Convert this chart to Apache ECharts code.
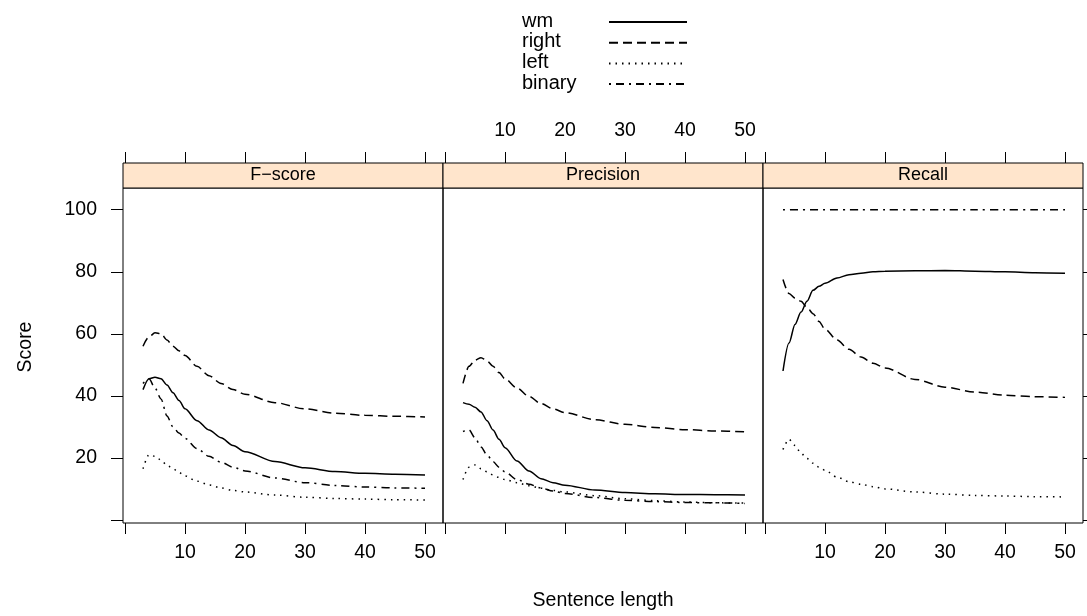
<!DOCTYPE html>
<html>
<head>
<meta charset="utf-8">
<script src="https://cdn.jsdelivr.net/npm/echarts@6/dist/echarts.min.js"></script>
<style>html,body{margin:0;padding:0;background:#fff}#c{width:1087px;height:616px}</style>
</head>
<body>
<div id="c"></div>
<script>
// ---- data ----
const panels = ['F\u2212score', 'Precision', 'Recall'];
const seriesNames = ['wm', 'right', 'left', 'binary'];
const xs = [3, 4, 5, 6, 7, 8, 9, 10, 12, 14, 16, 18, 20, 25, 30, 35, 40, 45, 50];

const wmF     = [42, 45.5, 46, 45.5, 43.5, 41, 38.5, 35.8, 32, 29, 26.5, 24, 22, 18.8, 16.8, 15.6, 15, 14.7, 14.5];
const rightF  = [56, 59, 60.3, 60, 58, 56, 54.5, 53, 49.5, 46.5, 44, 42, 40.5, 37.8, 35.8, 34.4, 33.7, 33.4, 33.2];
const leftF   = [16.5, 21, 20.5, 19.3, 17.6, 16.5, 15.3, 14.2, 12.5, 11.3, 10.3, 9.5, 9, 8, 7.3, 6.9, 6.7, 6.5, 6.4];
const binaryF = [44, 45.5, 42.5, 39, 33.5, 30, 28, 26.3, 23, 20.5, 18.6, 17, 15.8, 13.5, 12, 11.1, 10.6, 10.3, 10.2];

const wmP     = [37.8, 37.3, 36.3, 34.8, 32, 29, 26, 23.3, 19, 15.8, 13.3, 12, 11.2, 9.6, 8.8, 8.4, 8.2, 8.1, 8.0];
const rightP  = [44, 49.5, 51.5, 52.3, 51.3, 49.5, 47.5, 45.5, 42.5, 39.8, 37.5, 35.8, 34.6, 32.3, 30.8, 29.8, 29.1, 28.7, 28.4];
const leftP   = [13, 17, 17.7, 16.5, 15.5, 14.5, 13.7, 13, 12, 11, 10.2, 9.5, 9, 7.8, 6.8, 6.2, 5.8, 5.5, 5.4];
const binaryP = [28.5, 29, 26.5, 23.5, 21, 18.8, 17, 15.5, 13, 11.5, 10.3, 9.3, 8.5, 7.2, 6.3, 5.9, 5.6, 5.5, 5.3];

const wmR     = [48, 57, 63, 67, 70.5, 74, 75.3, 76.3, 78, 79, 79.5, 80, 80.2, 80.3, 80.4, 80.2, 80, 79.7, 79.5];
const rightR  = [77.5, 73, 71.5, 70.5, 68.5, 66.5, 64, 61.5, 58, 55, 52.5, 50.5, 49, 45.3, 42.8, 41.2, 40.2, 39.7, 39.5];
const leftR   = [22.7, 26, 24, 21.5, 19.8, 18.3, 17, 16, 13.8, 12.3, 11.5, 10.7, 10, 9, 8.3, 7.9, 7.7, 7.5, 7.4];
const binaryR = [100, 100, 100, 100, 100, 100, 100, 100, 100, 100, 100, 100, 100, 100, 100, 100, 100, 100, 100];

const xTicks = [0, 10, 20, 30, 40, 50];
const xLabels = [10, 20, 30, 40, 50];
const yTicks = [0, 20, 40, 60, 80, 100];
const yLabels = [20, 40, 60, 80, 100];

const panelValues = [
  [wmF, rightF, leftF, binaryF],
  [wmP, rightP, leftP, binaryP],
  [wmR, rightR, leftR, binaryR]
];

// ---- layout / style ----
const FONT = '"Liberation Sans", Arial, Helvetica, sans-serif';
const TICKFS = 19.5;
const GL = [123, 443, 763], GT = 188, GW = 320, GH = 335, STRIP = 25;
const XMIN = -1 / 3, XMAX = 53, YMIN = -1, YMAX = 107;
const dashes = ['solid', [9, 5], [1.5, 5], [2, 5, 8, 5]];

const grids = [], xAxes = [], yAxes = [], series = [], graphics = [];
GL.forEach((l, i) => {
  grids.push({ left: l, top: GT, width: GW, height: GH, show: true, borderColor: '#000', borderWidth: 1, backgroundColor: 'transparent', containLabel: false });
  const tick = { show: true, inside: false, length: 11, lineStyle: { color: '#000', width: 1 }, customValues: xTicks };
  xAxes.push({ gridIndex: i, type: 'value', position: 'bottom', min: XMIN, max: XMAX,
    axisLine: { show: false, onZero: false }, splitLine: { show: false }, axisTick: tick,
    axisLabel: { show: i !== 1, customValues: xLabels, margin: 20, color: '#000', fontSize: TICKFS, fontFamily: FONT } });
  xAxes.push({ gridIndex: i, type: 'value', position: 'top', offset: STRIP, min: XMIN, max: XMAX,
    axisLine: { show: false, onZero: false }, splitLine: { show: false }, axisTick: tick,
    axisLabel: { show: i === 1, customValues: xLabels, margin: 22, color: '#000', fontSize: TICKFS, fontFamily: FONT } });
  const ytick = { show: true, inside: false, length: 12, lineStyle: { color: '#000', width: 1 }, customValues: yTicks };
  yAxes.push({ gridIndex: i, type: 'value', position: 'left', min: YMIN, max: YMAX,
    axisLine: { show: false, onZero: false }, splitLine: { show: false }, axisTick: Object.assign({}, ytick, { show: i === 0 }),
    axisLabel: { show: i === 0, customValues: yLabels, margin: 26, color: '#000', fontSize: TICKFS, fontFamily: FONT } });
  yAxes.push({ gridIndex: i, type: 'value', position: 'right', min: YMIN, max: YMAX,
    axisLine: { show: false, onZero: false }, splitLine: { show: false }, axisTick: Object.assign({}, ytick, { show: i === 2 }),
    axisLabel: { show: false } });
  seriesNames.forEach((nm, k) => {
    series.push({ name: nm, type: 'line', xAxisIndex: 2 * i, yAxisIndex: 2 * i,
      data: xs.map((x, j) => [x, panelValues[i][k][j]]),
      symbol: 'none', smooth: 0.3, smoothMonotone: 'x', silent: true,
      lineStyle: { color: '#000', width: 1.5, type: dashes[k] }, itemStyle: { color: '#000' } });
  });
  graphics.push({ type: 'rect', shape: { x: l, y: GT - STRIP, width: GW, height: STRIP },
    style: { fill: '#FFE5CC', stroke: '#000', lineWidth: 1 } });
  graphics.push({ type: 'text', x: l + GW / 2, y: GT - STRIP / 2,
    style: { text: panels[i], align: 'center', verticalAlign: 'middle', font: '18px ' + FONT, fill: '#000' } });
});
// legend labels (text column left of the line keys)
seriesNames.forEach((nm, k) => {
  graphics.push({ type: 'text', x: 522, y: 21 + k * 20.7, style: { text: nm, align: 'left', verticalAlign: 'middle', font: '20px ' + FONT, fill: '#000' } });
});
graphics.push({ type: 'text', x: 603, y: 601, style: { text: 'Sentence length', align: 'center', verticalAlign: 'middle', font: '19.5px ' + FONT, fill: '#000' } });
graphics.push({ type: 'text', x: 26, y: 347, rotation: Math.PI / 2, style: { text: 'Score', align: 'center', verticalAlign: 'middle', font: '19.5px ' + FONT, fill: '#000' } });

const chart = echarts.init(document.getElementById('c'), null, { renderer: 'canvas' });
chart.setOption({
  animation: false,
  backgroundColor: '#fff',
  grid: grids, xAxis: xAxes, yAxis: yAxes, series: series, graphic: graphics,
  legend: { data: seriesNames, orient: 'vertical', left: 608, top: 14, align: 'left', padding: 0,
    itemWidth: 78, itemHeight: 20, itemGap: 4.7, selectedMode: false,
    formatter: () => '',
    itemStyle: { opacity: 0 },
    textStyle: { fontSize: 20, lineHeight: 20, fontFamily: FONT, color: '#000' } }
});
</script>
</body>
</html>
